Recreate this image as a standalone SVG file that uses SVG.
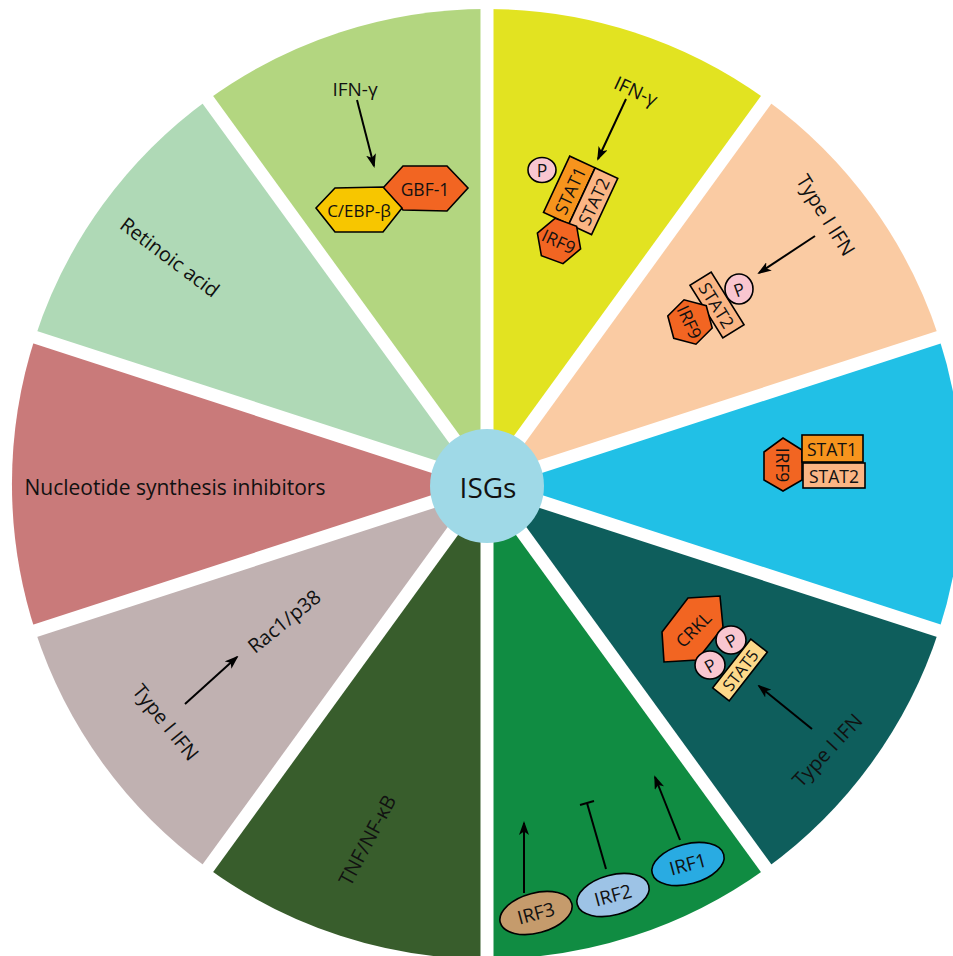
<svg xmlns="http://www.w3.org/2000/svg" xmlns:xlink="http://www.w3.org/1999/xlink" width="953" height="956" viewBox="0 0 953 956">
<style>
.t{font-family:"Open Sans",Lato,"Liberation Sans",sans-serif;fill:#111;text-anchor:middle;dominant-baseline:central;font-size:20px}
.s{font-size:17.5px}
.ln{stroke:#000;stroke-width:2;fill:none}
.arr{stroke:#000;stroke-width:2;fill:none;marker-end:url(#ah)}
.ob{stroke:#000;stroke-width:1.6}
.gap{stroke:#fff;stroke-width:13;stroke-linecap:butt}
</style>
<defs>
<marker id="ah" viewBox="0 0 14 10" refX="12" refY="5" markerWidth="14" markerHeight="10" markerUnits="userSpaceOnUse" orient="auto">
<path d="M0,0 L14,5 L0,10 L3.5,5 Z" fill="#000"/>
</marker>
<polygon id="hex" points="23,0 11.5,19.9 -11.5,19.9 -23,0 -11.5,-19.9 11.5,-19.9"/>
</defs>
<rect width="953" height="956" fill="#fff"/>

<g id="sectors">
<path d="M487,484 L487,9 A475,475 0 0 1 766.2,99.7 Z" fill="#e2e321"/>
<path d="M487,484 L766.2,99.7 A475,475 0 0 1 938.8,337.2 Z" fill="#facba3"/>
<path d="M487,484 L938.8,337.2 A475,475 0 0 1 938.8,630.8 Z" fill="#21c0e6"/>
<path d="M487,484 L938.8,630.8 A475,475 0 0 1 766.2,868.3 Z" fill="#0e5e5c"/>
<path d="M487,484 L766.2,868.3 A475,475 0 0 1 487,959 Z" fill="#108c42"/>
<path d="M487,484 L487,959 A475,475 0 0 1 207.8,868.3 Z" fill="#385d2c"/>
<path d="M487,484 L207.8,868.3 A475,475 0 0 1 35.2,630.8 Z" fill="#c0b1b1"/>
<path d="M487,484 L35.2,630.8 A475,475 0 0 1 35.2,337.2 Z" fill="#c97a7a"/>
<path d="M487,484 L35.2,337.2 A475,475 0 0 1 207.8,99.7 Z" fill="#afd9b6"/>
<path d="M487,484 L207.8,99.7 A475,475 0 0 1 487,9 Z" fill="#b3d680"/>
</g>
<g id="gaps">
<line class="gap" x1="487" y1="484" x2="487" y2="-6"/>
<line class="gap" x1="487" y1="484" x2="775" y2="87.6"/>
<line class="gap" x1="487" y1="484" x2="953" y2="332.6"/>
<line class="gap" x1="487" y1="484" x2="953" y2="635.4"/>
<line class="gap" x1="487" y1="484" x2="775" y2="880.4"/>
<line class="gap" x1="487" y1="484" x2="487" y2="974"/>
<line class="gap" x1="487" y1="484" x2="199" y2="880.4"/>
<line class="gap" x1="487" y1="484" x2="21" y2="635.4"/>
<line class="gap" x1="487" y1="484" x2="21" y2="332.6"/>
<line class="gap" x1="487" y1="484" x2="199" y2="87.6"/>
</g>

<g id="center">
<circle cx="487" cy="486" r="57" fill="#9fd9e7"/>
<text class="t" x="488" y="487" style="font-size:28px">ISGs</text>
</g>

<g id="connectors">
<line class="arr" x1="357" y1="100" x2="374" y2="166"/>
<line class="arr" x1="626" y1="99" x2="598" y2="159"/>
<line class="arr" x1="815" y1="236" x2="759" y2="273"/>
<line class="arr" x1="812" y1="729" x2="759" y2="686"/>
<line class="arr" x1="680" y1="840" x2="655" y2="777"/>
<line class="ln" x1="606" y1="869" x2="587" y2="803"/>
<line class="ln" x1="580" y1="805" x2="594" y2="801"/>
<line class="arr" x1="524" y1="893" x2="524" y2="823"/>
<line class="arr" x1="185" y1="704" x2="237" y2="657"/>
</g>

<g id="gbf-sector">
<text class="t" x="355" y="89" style="font-size:19px">IFN-γ</text>
<polygon class="ob" points="383,188 403,166 447,166 468,188 447,211 403,210" fill="#f26522"/>
<text class="t s" x="425" y="189">GBF-1</text>
<polygon class="ob" points="316,208 335,188 383,187 402,208 383,232 335,232" fill="#f7c600"/>
<text class="t" x="359" y="210" style="font-size:17px">C/EBP-β</text>
</g>

<g id="ifng-stat-sector">
<text class="t" x="636" y="91" style="font-size:19px" transform="rotate(25 636 91)">IFN-γ</text>
<g transform="translate(582,196) rotate(-65)">
<rect class="ob" x="-31" y="-28" width="62" height="28" fill="#f7941d"/>
<rect class="ob" x="-31" y="0" width="62" height="25" fill="#fbb584"/>
<text class="t s" x="0" y="-13.5">STAT1</text>
<text class="t s" x="0" y="12.5">STAT2</text>
</g>
<ellipse class="ob" cx="542" cy="170" rx="14" ry="12.5" fill="#f9c6d0"/>
<text class="t s" x="542" y="170">P</text>
<use href="#hex" class="ob" fill="#f26522" transform="translate(559,241) rotate(20)"/>
<text class="t s" x="559" y="241" transform="rotate(25 559 241)">IRF9</text>
</g>

<g id="typeI-stat2-sector">
<text class="t" x="826" y="215" transform="rotate(58 826 215)">Type I IFN</text>
<g transform="translate(717,305) rotate(58)">
<rect class="ob" x="-31" y="-12.5" width="62" height="25" fill="#fbb584"/>
<text class="t s" x="0" y="0">STAT2</text>
</g>
<ellipse class="ob" cx="739" cy="289" rx="14" ry="15" fill="#f9c6d0"/>
<text class="t s" x="739" y="289" transform="rotate(-20 739 289)">P</text>
<use href="#hex" class="ob" fill="#f26522" transform="translate(690,322) rotate(15)"/>
<text class="t s" x="690" y="322" transform="rotate(65 690 322)">IRF9</text>
</g>

<g id="isgf3-sector">
<polygon class="ob" points="783,438 802,450 802,480 783,491 764,480 764,452" fill="#f26522"/>
<text class="t s" x="783" y="465" transform="rotate(90 783 465)">IRF9</text>
<rect class="ob" x="802" y="435" width="61" height="27" fill="#f7941d"/>
<text class="t s" x="832" y="449">STAT1</text>
<rect class="ob" x="803" y="463" width="62" height="25" fill="#fbb584"/>
<text class="t s" x="834" y="476">STAT2</text>
</g>

<g id="crkl-sector">
<polygon class="ob" points="662,632 688,598 720,596 723,627 697,660 664,662" fill="#f26522"/>
<text class="t s" x="693" y="629" transform="rotate(-45 693 629)">CRKL</text>
<ellipse class="ob" cx="731" cy="640" rx="15" ry="14" fill="#f9c6d0"/>
<text class="t s" x="731" y="640" transform="rotate(-30 731 640)">P</text>
<ellipse class="ob" cx="710" cy="665" rx="15" ry="14" fill="#f9c6d0"/>
<text class="t s" x="710" y="665" transform="rotate(-30 710 665)">P</text>
<g transform="translate(740,670) rotate(-52)">
<rect class="ob" x="-31" y="-10.5" width="62" height="21" fill="#fdd98a"/>
<text class="t" x="0" y="0" style="font-size:16.5px">STAT5</text>
</g>
<text class="t" x="827" y="750" transform="rotate(-47 827 750)">Type I IFN</text>
</g>

<g id="irf-sector">
<g transform="translate(536,913) rotate(-15)">
<ellipse class="ob" cx="0" cy="0" rx="37" ry="20" fill="#c59b6c"/>
<text class="t" x="0" y="0" style="font-size:19px">IRF3</text>
</g>
<g transform="translate(613,895) rotate(-15)">
<ellipse class="ob" cx="0" cy="0" rx="37" ry="20" fill="#9dc3e6"/>
<text class="t" x="0" y="0" style="font-size:19px">IRF2</text>
</g>
<g transform="translate(688,864) rotate(-15)">
<ellipse class="ob" cx="0" cy="0" rx="37" ry="20" fill="#29abe2"/>
<text class="t" x="0" y="0" style="font-size:19px">IRF1</text>
</g>
</g>

<g id="tnf-sector">
<text class="t" x="367" y="840" transform="rotate(-62 367 840)">TNF/NF-κB</text>
</g>

<g id="rac-sector">
<text class="t" x="284" y="621" transform="rotate(-39 284 621)">Rac1/p38</text>
<text class="t" x="166" y="722" transform="rotate(51 166 722)">Type I IFN</text>
</g>

<g id="nucleotide-sector">
<text class="t" x="175" y="487" style="font-size:21px">Nucleotide synthesis inhibitors</text>
</g>

<g id="retinoic-sector">
<text class="t" x="170" y="257" transform="rotate(37 170 257)">Retinoic acid</text>
</g>
</svg>
